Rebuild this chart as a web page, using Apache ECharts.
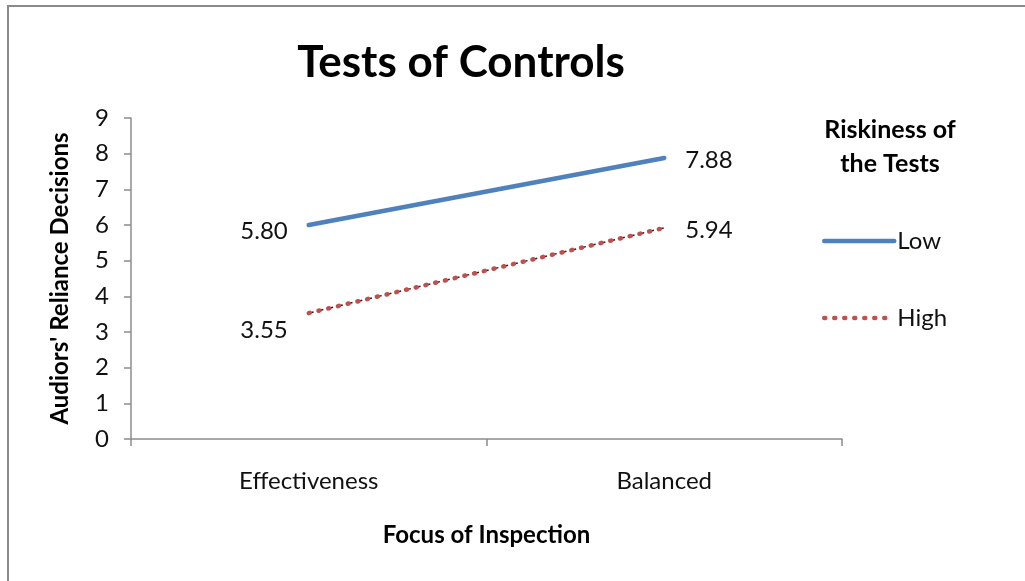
<!DOCTYPE html>
<html>
<head>
<meta charset="utf-8">
<script src="https://cdn.jsdelivr.net/npm/echarts@6/dist/echarts.min.js"></script>
<style>
  html, body { margin: 0; padding: 0; background: #fff; }
  #chart { width: 1025px; height: 581px; }
</style>
</head>
<body>
<div id="chart"></div>
<script>
// 데이터
const categories = ["Effectiveness", "Balanced"];
const lowValues = [6.0, 7.88];
const highValues = [3.53, 5.92];
const lowLabels = ["5.80", "7.88"];
const highLabels = ["3.55", "5.94"];
const yTicks = [0, 1, 2, 3, 4, 5, 6, 7, 8, 9];

const font = "Lato, 'Open Sans', sans-serif";
const axisColor = "#8c8c8c";

// 왼쪽 점은 왼쪽에, 오른쪽 점은 오른쪽에 라벨
const makeLabels = (values, texts, leftOffset) =>
  values.map((v, i) => ({
    value: v,
    label: {
      show: true,
      formatter: texts[i],
      position: i === 0 ? "left" : "right",
      distance: 21,
      offset: i === 0 ? leftOffset : [0, 2],
      fontSize: 24,
      fontFamily: font,
      color: "#111",
    },
  }));

const chart = echarts.init(document.getElementById("chart"), null, { renderer: "canvas" });

chart.setOption({
  animation: false,
  title: [
    {
      text: "Tests of Controls",
      left: 456,
      top: 36,
      textAlign: "center",
      textStyle: { fontSize: 44, fontWeight: "bold", fontFamily: font, color: "#000" },
    },
    {
      text: "Riskiness of\nthe Tests",
      left: 885,
      top: 108,
      textAlign: "center",
      textStyle: { fontSize: 25, fontWeight: "bold", fontFamily: font, color: "#000", lineHeight: 34 },
    },
  ],
  legend: {
    data: [
      { name: "Low", itemStyle: { opacity: 0 }, lineStyle: { width: 4.5, color: "#4f81bd", cap: "round" } },
      { name: "High", itemStyle: { opacity: 0 }, lineStyle: { width: 4.5, color: "#c0504d", type: [1, 9], cap: "round" } },
    ],
    orient: "vertical",
    left: 817,
    top: 224,
    itemWidth: 70,
    itemHeight: 12,
    itemGap: 53,
    textStyle: { fontSize: 24, fontFamily: font, color: "#111", padding: [0, 0, 0, -2] },
  },
  grid: { left: 131, right: 183, top: 118, bottom: 142 },
  xAxis: {
    type: "category",
    data: categories,
    boundaryGap: true,
    name: "Focus of Inspection",
    nameLocation: "middle",
    nameGap: 84,
    nameTextStyle: { fontSize: 24, fontWeight: "bold", fontFamily: font, color: "#000" },
    axisLine: { lineStyle: { color: axisColor, width: 1.5 } },
    axisTick: { show: true, length: 7, lineStyle: { color: axisColor, width: 1.5 } },
    axisLabel: { margin: 30, fontSize: 24, fontFamily: font, color: "#111" },
  },
  yAxis: {
    type: "value",
    min: yTicks[0],
    max: yTicks[yTicks.length - 1],
    interval: 1,
    name: "Audiors' Reliance Decisions",
    nameLocation: "middle",
    nameGap: 59,
    nameTextStyle: { fontSize: 24, fontWeight: "bold", fontFamily: font, color: "#000" },
    axisLine: { show: true, lineStyle: { color: axisColor, width: 1.5 } },
    axisTick: { show: true, length: 7, lineStyle: { color: axisColor, width: 1.5 } },
    axisLabel: { margin: 22, fontSize: 24, fontFamily: font, color: "#111" },
    splitLine: { show: false },
  },
  series: [
    {
      name: "Low",
      type: "line",
      data: makeLabels(lowValues, lowLabels, [0, 6]),
      symbol: "circle",
      symbolSize: 0,
      showSymbol: true,
      lineStyle: { color: "#4f81bd", width: 4.5, cap: "round" },
      itemStyle: { color: "#4f81bd" },
    },
    {
      name: "HighBase",
      type: "line",
      data: highValues,
      symbol: "none",
      silent: true,
      lineStyle: { color: "#222", width: 1.5, type: [5, 5] },
      z: 1,
    },
    {
      name: "High",
      type: "line",
      data: makeLabels(highValues, highLabels, [0, 17]),
      symbol: "circle",
      symbolSize: 0,
      showSymbol: true,
      lineStyle: { color: "#c0504d", width: 4.5, type: [1, 9], cap: "round" },
      itemStyle: { color: "#c0504d" },
      z: 3,
    },
  ],
  graphic: [
    {
      type: "rect",
      shape: { x: 8, y: 6, width: 1200, height: 800 },
      style: { fill: "none", stroke: "#8a8a8a", lineWidth: 2 },
      silent: true,
    },
  ],
});
</script>
</body>
</html>
